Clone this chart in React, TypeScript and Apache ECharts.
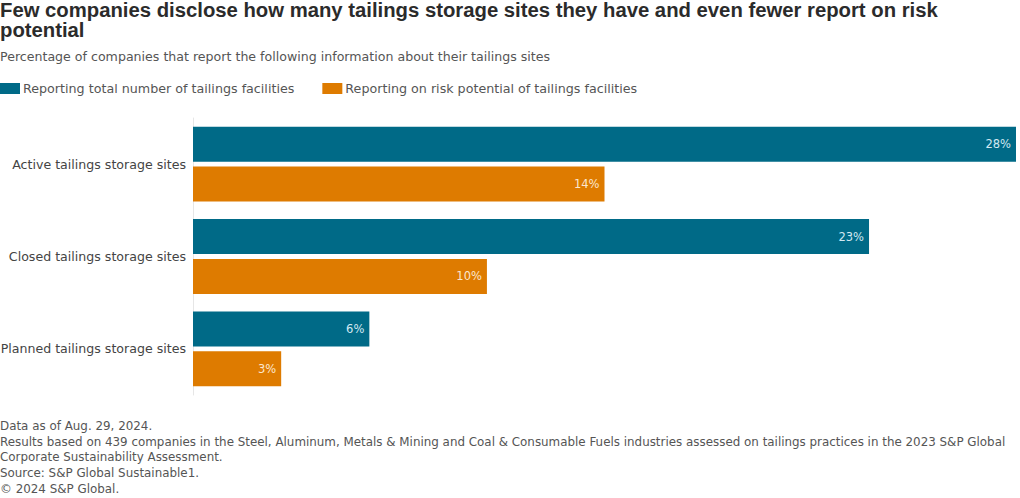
import React, { useEffect, useRef } from "react";
import * as echarts from "echarts";

const categories = [
  "Active tailings storage sites",
  "Closed tailings storage sites",
  "Planned tailings storage sites",
];
const totalNumber = [28, 23, 6];
const riskPotential = [14, 10, 3];
const seriesNames = [
  "Reporting total number of tailings facilities",
  "Reporting on risk potential of tailings facilities",
];
const titleLines = [
  "Few companies disclose how many tailings storage sites they have and even fewer report on risk",
  "potential",
];
const subtitle = "Percentage of companies that report the following information about their tailings sites";
const footerLines = [
  "Data as of Aug. 29, 2024.",
  "Results based on 439 companies in the Steel, Aluminum, Metals & Mining and Coal & Consumable Fuels industries assessed on tailings practices in the 2023 S&P Global",
  "Corporate Sustainability Assessment.",
  "Source: S&P Global Sustainable1.",
  "© 2024 S&P Global.",
];

const FONT = "'DejaVu Sans', sans-serif";
const TITLE_FONT = "'Liberation Sans', Arial, sans-serif";
const BLUE = "#006a87";
const ORANGE = "#de7b00";

export default function App() {
  const ref = useRef<HTMLDivElement>(null);
  useEffect(() => {
    if (!ref.current) return;
    const chart = echarts.init(ref.current, null, { renderer: "svg" });
    chart.setOption({
      animation: false,
      backgroundColor: "#ffffff",
      textStyle: { fontFamily: FONT },
      title: [
        {
          text: titleLines[0],
          left: 0,
          top: 0,
          padding: 0,
          textStyle: { fontSize: 20.3, fontWeight: "bold", color: "#2b2b2b", lineHeight: 20, fontFamily: TITLE_FONT },
        },
        {
          text: titleLines[1],
          left: 0,
          top: 20,
          padding: 0,
          textStyle: { fontSize: 20.3, fontWeight: "bold", color: "#2b2b2b", lineHeight: 20, fontFamily: TITLE_FONT },
        },
        {
          text: subtitle,
          left: 0,
          top: 48,
          padding: 0,
          textStyle: { fontSize: 12.6, fontWeight: "normal", color: "#555555", lineHeight: 16, fontFamily: FONT },
        },
        {
          text: footerLines.join("\n"),
          left: 0,
          top: 418,
          padding: 0,
          textStyle: { fontSize: 11.9, fontWeight: "normal", color: "#555555", lineHeight: 15.75, fontFamily: FONT },
        },
      ],
      legend: {
        left: 0,
        top: 82,
        padding: 0,
        itemWidth: 20,
        itemHeight: 11,
        itemGap: 28,
        icon: "rect",
        textStyle: { fontSize: 12.7, color: "#555555", fontFamily: FONT, padding: [0, 0, 0, -2] },
        data: seriesNames,
      },
      grid: { left: 193, right: 4, top: 118, bottom: 103, containLabel: false, outerBoundsMode: "none" },
      xAxis: {
        type: "value",
        min: 0,
        max: 28,
        show: false,
      },
      yAxis: {
        type: "category",
        inverse: true,
        data: categories,
        axisLine: { show: true, lineStyle: { color: "#e6e6e6", width: 1 } },
        axisTick: { show: false },
        axisLabel: { color: "#444444", fontSize: 12.6, margin: 7, fontFamily: FONT },
      },
      series: [
        {
          name: seriesNames[0],
          type: "bar",
          data: totalNumber,
          itemStyle: { color: BLUE },
          barGap: "14%",
          barCategoryGap: "19%",
          label: {
            show: true,
            position: "insideRight",
            distance: 5,
            formatter: "{c}%",
            color: "#d2e8f2",
            fontSize: 11.5,
            fontFamily: FONT,
          },
        },
        {
          name: seriesNames[1],
          type: "bar",
          data: riskPotential,
          itemStyle: { color: ORANGE },
          barGap: "14%",
          barCategoryGap: "19%",
          label: {
            show: true,
            position: "insideRight",
            distance: 5,
            formatter: "{c}%",
            color: "#fbe6cf",
            fontSize: 11.5,
            fontFamily: FONT,
          },
        },
      ],
    });
    return () => chart.dispose();
  }, []);
  return (
    <div
      ref={ref}
      style={{ position: "fixed", left: 0, top: 0, width: 1020, height: 498, background: "#fff" }}
    />
  );
}
